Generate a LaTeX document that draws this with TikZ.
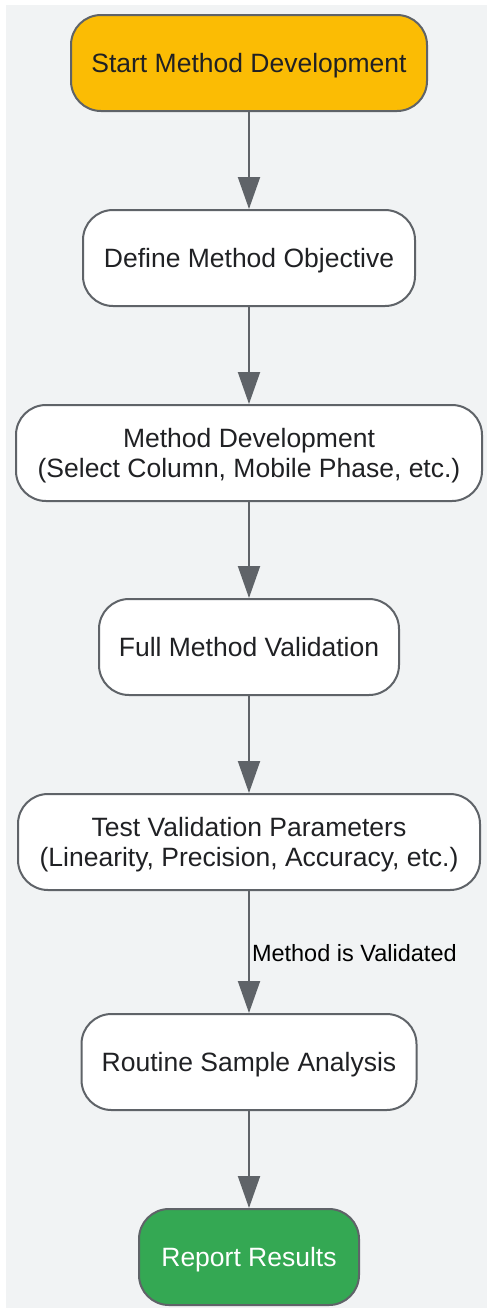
\documentclass[tikz,border=0pt]{standalone}
\usepackage{fontspec}
\setmainfont{Liberation Sans}
\usetikzlibrary{arrows.meta}
\definecolor{bg}{HTML}{F1F3F4}
\definecolor{edge}{HTML}{5F6368}
\definecolor{txt}{HTML}{202124}
\definecolor{ystart}{HTML}{FBBC04}
\definecolor{gend}{HTML}{34A853}
\tikzset{
  box/.style={draw=edge, line width=2pt, rounded corners=30pt, fill=white, text=txt,
    minimum height=96pt, align=center, inner sep=0pt, text height=19pt, text depth=1pt,
    font=\fontsize{26.5pt}{30pt}\selectfont},
  twoline/.style={text height=49pt},
  conn/.style={draw=edge, line width=2pt, -{Triangle[length=32pt,width=22pt]}},
  lbl/.style={text=black, font=\fontsize{23.5pt}{26pt}\selectfont, inner sep=0pt}
}
\begin{document}
\begin{tikzpicture}[x=1pt,y=-1pt]
\useasboundingbox (0,0) rectangle (487,1310);
\fill[bg] (6,5) rectangle (487,1308);
\node[box, fill=ystart, minimum width=356pt] (n1) at (249,63) {Start Method Development};
\node[box, minimum width=332pt] (n2) at (249,258) {Define Method Objective};
\node[box, twoline, minimum width=466pt] (n3) at (249,453) {Method Development\\(Select Column, Mobile Phase, etc.)};
\node[box, minimum width=300pt] (n4) at (249,647) {Full Method Validation};
\node[box, twoline, minimum width=462pt] (n5) at (249,842) {Test Validation Parameters\\(Linearity, Precision, Accuracy, etc.)};
\node[box, minimum width=335pt] (n6) at (249,1062) {Routine Sample Analysis};
\node[box, fill=gend, text=white, minimum width=220pt] (n7) at (249,1257) {Report Results};
\draw[conn] (n1) -- (n2);
\draw[conn] (n2) -- (n3);
\draw[conn] (n3) -- (n4);
\draw[conn] (n4) -- (n5);
\draw[conn] (n5) -- node[lbl, anchor=west, xshift=2pt, pos=0.51] (l1) {Method is Validated} (n6);
\draw[conn] (n6) -- (n7);
\end{tikzpicture}
\end{document}
